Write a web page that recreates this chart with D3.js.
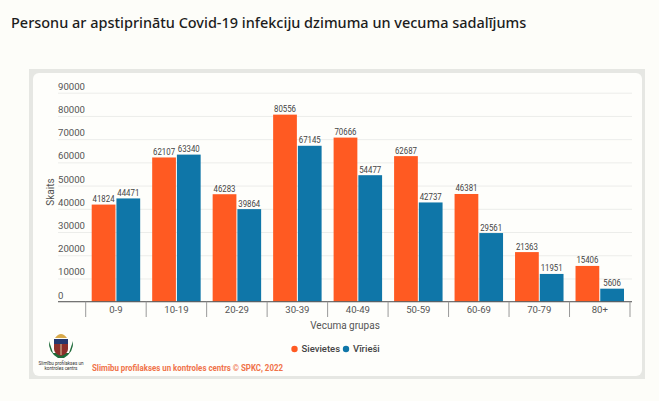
<!DOCTYPE html>
<html>
<head>
<meta charset="utf-8">
<script src="https://cdn.jsdelivr.net/npm/d3@7"></script>
<style>
html, body { margin: 0; padding: 0; background: #fdfdf9; }
svg { display: block; }
text { font-family: Roboto, sans-serif; }
</style>
</head>
<body>
<svg id="chart" width="659" height="401"></svg>
<script>
var ageGroups = ["0-9", "10-19", "20-29", "30-39", "40-49", "50-59", "60-69", "70-79", "80+"];
var women = [41824, 62107, 46283, 80556, 70666, 62687, 46381, 21363, 15406];
var men = [44471, 63340, 39864, 67145, 54477, 42737, 29561, 11951, 5606];
var yTicks = [0, 10000, 20000, 30000, 40000, 50000, 60000, 70000, 80000, 90000];
var seriesNames = ["Sievietes", "Vīrieši"];
var seriesColors = ["#ff5a22", "#0f76a8"];

var titleText = "Personu ar apstiprinātu Covid-19 infekciju dzimuma un vecuma sadalījums";
var sourceText = "Slimību profilakses un kontroles centrs © SPKC, 2022";

var svg = d3.select("#chart");

svg.append("text")
    .attr("x", 11).attr("y", 28)
    .style("font-family", "'Noto Sans', sans-serif")
    .style("font-size", "14.47px")
    .style("font-weight", 500)
    .attr("fill", "#1c1c1c")
    .text(titleText);

// card
svg.append("rect").attr("x", 29).attr("y", 69).attr("width", 616).attr("height", 310).attr("fill", "#e6e7e3");
svg.append("rect").attr("x", 33).attr("y", 73).attr("width", 609).attr("height", 303).attr("rx", 6).attr("fill", "#fefefb");

var x = d3.scaleBand().domain(ageGroups).range([85.7, 630]).paddingInner(0).paddingOuter(0);
var inner = d3.scaleBand().domain([0, 1]).range([6, x.bandwidth() - 6]).paddingInner(0.04);
var y = d3.scaleLinear().domain([0, 90000]).range([301.7, 92.7]);

// gridlines + labels sitting above them
var yAxis = svg.append("g")
    .attr("transform", "translate(58,0)")
    .call(d3.axisRight(y).tickValues(yTicks).tickSize(574).tickFormat(d3.format("d")));
yAxis.select(".domain").remove();
yAxis.selectAll("line").attr("stroke", "#ecedea").attr("stroke-width", 1);
yAxis.selectAll("text")
    .attr("x", 0).attr("y", -3.5).attr("dy", 0)
    .attr("text-anchor", "start")
    .attr("fill", "#555")
    .style("font-size", "9.6px");

var rows = [women, men];
rows.forEach(function(values, s) {
    svg.append("g").selectAll("rect")
        .data(values)
        .join("rect")
        .attr("x", function(d, i) { return x(ageGroups[i]) + inner(s); })
        .attr("y", function(d) { return y(d); })
        .attr("width", inner.bandwidth())
        .attr("height", function(d) { return y(0) - y(d); })
        .attr("fill", seriesColors[s]);

    // labels in the original are tall and narrow
    svg.append("g").selectAll("text")
        .data(values)
        .join("text")
        .attr("x", function(d, i) { return x(ageGroups[i]) + inner(s) + inner.bandwidth() / 2; })
        .attr("y", function(d) { return y(d) - 2.5; })
        .attr("text-anchor", "middle")
        .attr("textLength", function(d) { return String(d).length * 4.4; })
        .attr("lengthAdjust", "spacingAndGlyphs")
        .attr("fill", "#444")
        .style("font-size", "9.2px")
        .text(function(d) { return d; });
});

// x axis
var xAxis = svg.append("g")
    .attr("transform", "translate(0,301.7)")
    .call(d3.axisBottom(x).tickSize(0).tickPadding(4));
xAxis.select(".domain").remove();
xAxis.selectAll("text").attr("fill", "#555").style("font-size", "9.6px");
svg.append("line")
    .attr("x1", 58).attr("x2", 632).attr("y1", 301.7).attr("y2", 301.7)
    .attr("stroke", "#555").attr("stroke-width", 1);
svg.append("g").selectAll("line")
    .data(ageGroups.concat(["end"]))
    .join("line")
    .attr("x1", function(d, i) { return x.range()[0] + i * x.step(); })
    .attr("x2", function(d, i) { return x.range()[0] + i * x.step(); })
    .attr("y1", 301.7).attr("y2", 317)
    .attr("stroke", "#999").attr("stroke-width", 1);

svg.append("text")
    .attr("x", 345).attr("y", 328.5)
    .attr("text-anchor", "middle")
    .attr("fill", "#555")
    .style("font-size", "10px")
    .text("Vecuma grupas");

svg.append("text")
    .attr("transform", "translate(54,192) rotate(-90)")
    .attr("text-anchor", "middle")
    .attr("fill", "#555")
    .style("font-size", "10px")
    .text("Skaits");

// legend
var legendX = [294.5, 346];
seriesNames.forEach(function(name, s) {
    svg.append("circle").attr("cx", legendX[s]).attr("cy", 349).attr("r", 3.2).attr("fill", seriesColors[s]);
    svg.append("text")
        .attr("x", legendX[s] + 7).attr("y", 352)
        .attr("fill", "#444")
        .style("font-size", "9.5px")
        .style("font-weight", 500)
        .text(name);
});

// source line, the original face is condensed
svg.append("text")
    .attr("x", 92).attr("y", 370.5)
    .attr("fill", "#f0734a")
    .attr("textLength", 191)
    .attr("lengthAdjust", "spacingAndGlyphs")
    .style("font-size", "9.6px")
    .style("font-weight", 700)
    .text(sourceText);

// logo, small coat of arms
var logo = svg.append("g").attr("transform", "translate(61,346)");
logo.append("path").attr("d", "M-12,-5 Q-13,6 -3,12 L3,12 Q13,6 12,-5 L8,7 L-8,7 Z").attr("fill", "#1f6b3a");
logo.append("path").attr("d", "M-7,-7 L7,-7 L7,3 Q7,8 0,10 Q-7,8 -7,3 Z").attr("fill", "#8c2f2b");
logo.append("rect").attr("x", -7).attr("y", -7).attr("width", 14).attr("height", 5).attr("fill", "#25376e");
logo.append("path").attr("d", "M-6,-8 Q0,-16 6,-8 Z").attr("fill", "#d8a94a");
logo.append("path").attr("d", "M0,-2 L0,9").attr("stroke", "#d8c9a0").attr("stroke-width", 1);

svg.append("text").attr("x", 61).attr("y", 364.7).attr("text-anchor", "middle")
    .attr("fill", "#333").style("font-size", "4.6px").text("Slimību profilakses un");
svg.append("text").attr("x", 61).attr("y", 370.3).attr("text-anchor", "middle")
    .attr("fill", "#333").style("font-size", "4.6px").text("kontroles centrs");
</script>
</body>
</html>
